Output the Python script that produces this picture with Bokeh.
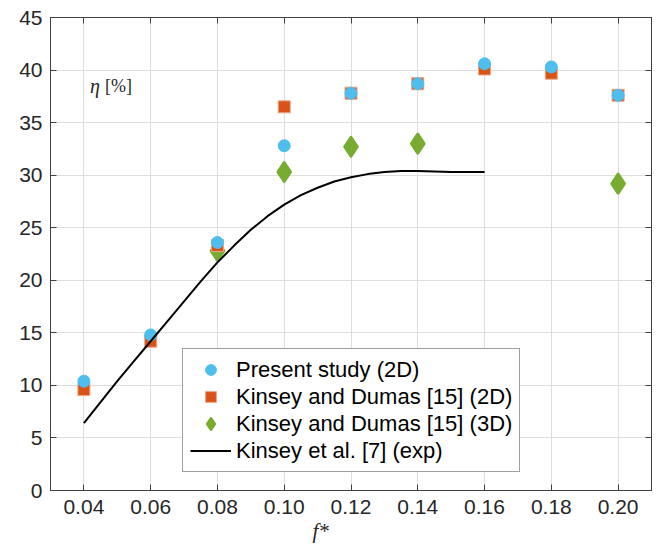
from bokeh.plotting import figure
from bokeh.models import (Range1d, FixedTicker, PrintfTickFormatter, LinearAxis,
                          Legend, LegendItem, Label, Title, CustomJSTickFormatter)
from bokeh.embed import file_html
from bokeh.resources import INLINE

# ---------------- data ----------------
f_star = [0.04, 0.06, 0.08, 0.10, 0.12, 0.14, 0.16, 0.18, 0.20]
present_2d = [10.4, 14.8, 23.6, 32.8, 37.8, 38.7, 40.6, 40.3, 37.6]
kd_2d = [9.6, 14.2, 23.3, 36.5, 37.8, 38.7, 40.1, 39.7, 37.6]
f_star_3d = [0.08, 0.10, 0.12, 0.14, 0.20]
kd_3d = [22.8, 30.3, 32.7, 33.0, 29.2]
exp_f = [0.040, 0.045, 0.050, 0.055, 0.060, 0.065, 0.070, 0.075, 0.080, 0.085,
         0.090, 0.095, 0.100, 0.105, 0.110, 0.115, 0.120, 0.125, 0.130, 0.135,
         0.140, 0.145, 0.150, 0.155, 0.160]
exp_eta = [6.4, 8.4, 10.4, 12.3, 14.2, 16.1, 18.0, 19.9, 21.7, 23.3,
           24.8, 26.1, 27.2, 28.1, 28.8, 29.4, 29.8, 30.1, 30.3, 30.4,
           30.4, 30.35, 30.3, 30.3, 30.3]
x_ticks = [0.04, 0.06, 0.08, 0.10, 0.12, 0.14, 0.16, 0.18, 0.20]
y_ticks = [0, 5, 10, 15, 20, 25, 30, 35, 40, 45]
labels = ["Present study (2D)", "Kinsey and Dumas [15] (2D)",
          "Kinsey and Dumas [15] (3D)", "Kinsey et al. [7] (exp)"]

C_BLUE = "#4DBEEE"
C_ORANGE = "#D95319"
C_GREEN = "#77AC30"
AX = "#404040"
TXT = "#262626"
SANS = "Liberation Sans"
SERIF = "Liberation Serif"
FS = "21px"

p = figure(width=657, height=546, output_backend="svg", toolbar_location=None,
           x_range=Range1d(0.03, 0.21), y_range=Range1d(0, 45),
           min_border_left=50, min_border_right=6, min_border_top=17,
           min_border_bottom=56, background_fill_color="white",
           border_fill_color="white")

p.outline_line_color = AX
p.outline_line_width = 1

def style_axis(ax, show_labels=True):
    ax.axis_line_color = AX
    ax.major_tick_line_color = AX
    ax.major_tick_in = 6
    ax.major_tick_out = 0
    ax.minor_tick_line_color = None
    ax.major_label_text_font = SANS
    ax.major_label_text_color = TXT
    if show_labels:
        ax.major_label_text_font_size = FS
        ax.major_label_standoff = 8
    else:
        ax.formatter = CustomJSTickFormatter(code="return '';")
        ax.major_label_text_font_size = "1px"
        ax.major_label_standoff = 0

p.xaxis.ticker = FixedTicker(ticks=x_ticks)
p.xaxis.formatter = PrintfTickFormatter(format="%.2f")
p.yaxis.ticker = FixedTicker(ticks=y_ticks)
style_axis(p.xaxis[0])
style_axis(p.yaxis[0])
p.xaxis.major_label_standoff = 9
p.yaxis.major_label_standoff = 8

top_ax = LinearAxis(ticker=FixedTicker(ticks=x_ticks))
right_ax = LinearAxis(ticker=FixedTicker(ticks=y_ticks))
style_axis(top_ax, False)
style_axis(right_ax, False)
p.add_layout(top_ax, "above")
p.add_layout(right_ax, "right")

p.xgrid.ticker = FixedTicker(ticks=x_ticks)
p.ygrid.ticker = FixedTicker(ticks=y_ticks)
p.grid.grid_line_color = "#dedede"
p.grid.grid_line_width = 1

r_3d = p.scatter(f_star_3d, kd_3d, marker="diamond", size=19,
                 fill_color=C_GREEN, line_color=C_GREEN, line_width=3,
                 line_join="round")
r_2d = p.scatter(f_star, kd_2d, marker="square", size=12,
                 fill_color=C_ORANGE, line_color="#f0a585", line_width=1)
r_pr = p.scatter(f_star, present_2d, marker="circle", size=12,
                 fill_color=C_BLUE, line_color=C_BLUE)
r_exp = p.line(exp_f, exp_eta, line_color="black", line_width=2)

legend = Legend(items=[LegendItem(label=labels[0], renderers=[r_pr]),
                       LegendItem(label=labels[1], renderers=[r_2d]),
                       LegendItem(label=labels[2], renderers=[r_3d]),
                       LegendItem(label=labels[3], renderers=[r_exp])],
                location=(132, 18), margin=0, padding=7, spacing=0,
                glyph_width=41, glyph_height=27, label_height=27,
                label_standoff=5, label_text_font=SANS,
                label_text_font_size="22px", label_text_color="black",
                border_line_color=AX, border_line_width=1,
                background_fill_color="white", background_fill_alpha=1)
p.add_layout(legend, "center")

p.add_layout(Label(x=0.0418, y=38.44, text="η", text_font=SERIF,
                   text_font_style="italic", text_font_size="20px",
                   text_color=TXT, text_baseline="middle"))
p.add_layout(Label(x=0.0463, y=38.44, text="[%]", text_font=SERIF,
                   text_font_size="18px", text_color=TXT,
                   text_baseline="middle"))

xlab = Title(text="f*", align="left", offset=262, text_font=SERIF,
             text_font_style="italic", text_font_size="21px",
             text_color=TXT, standoff=0)
p.add_layout(xlab, "below")

open("out.html", "w").write(file_html(p, INLINE))
